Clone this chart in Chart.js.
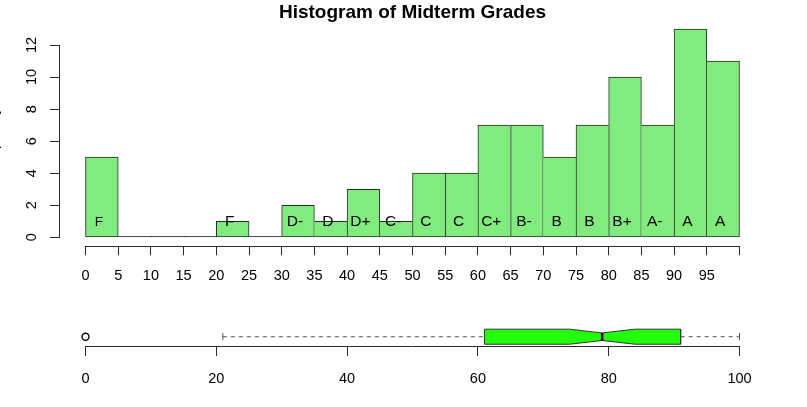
<!DOCTYPE html>
<html>
<head>
<meta charset="utf-8">
<script src="https://cdn.jsdelivr.net/npm/chart.js@4/dist/chart.umd.min.js"></script>
<style>
  body { margin: 0; background: #fff; }
  #wrap { position: relative; width: 807px; height: 407px; }
  #wrap canvas { position: absolute; left: 0; }
  #histChart { top: 0; }
  #boxChart { top: 290px; }
</style>
</head>
<body>
<div id="wrap">
  <canvas id="histChart" width="807" height="290"></canvas>
  <canvas id="boxChart" width="807" height="117"></canvas>
</div>
<script>
// histogram: lower edge of each 5-point bin, count in it, grade written in the bar
const binStarts = [0, 5, 10, 15, 20, 25, 30, 35, 40, 45, 50, 55, 60, 65, 70, 75, 80, 85, 90, 95];
const counts = [5, 0, 0, 0, 1, 0, 2, 1, 3, 1, 4, 4, 7, 7, 5, 7, 10, 7, 13, 11];
const grades = ['F', '', '', '', 'F', '', 'D-', 'D', 'D+', 'C-', 'C', 'C', 'C+', 'B-', 'B', 'B', 'B+', 'A-', 'A', 'A'];

// boxplot: lower whisker, Q1, median, Q3, upper whisker
const boxStats = [21, 61, 79, 91, 100];
const boxNotch = [74, 84];
const boxOutliers = [0];

const FONT = "'Liberation Sans', Arial, Helvetica, sans-serif";
Chart.defaults.font.family = FONT;
Chart.defaults.font.size = 14.5;
Chart.defaults.color = '#000';

const binWidth = 5;
const gradeLevel = 0.95;   // height (in counts) where grade letters sit
const boxHalf = 0.73;      // half height of the box on the boxplot y scale
const notchHalf = 0.365;
const barFill = 'rgb(128, 236, 126)';
const edge = '#2a2a2a';

// R draws its axes a little away from the plot region
const detachAxes = {
    id: 'detachAxes',
    afterLayout(chart, args, opts) {
        const {x, y} = chart.scales;
        y.left -= opts.yShift;
        y.right -= opts.yShift;
        x.top += opts.xShift;
        x.bottom += opts.xShift;
    }
};

const gradeText = {
    id: 'gradeText',
    afterDatasetsDraw(chart) {
        const ctx = chart.ctx;
        const bars = chart.getDatasetMeta(0).data;
        const y = chart.scales.y.getPixelForValue(gradeLevel);
        ctx.save();
        ctx.fillStyle = '#000';
        ctx.textAlign = 'center';
        ctx.textBaseline = 'middle';
        grades.forEach((g, i) => {
            if (!g) return;
            ctx.font = (i === 0 ? '13.5px ' : '15.5px ') + FONT;
            ctx.fillText(g, bars[i].x - 3, y);
        });
        ctx.restore();
    }
};

const last = counts.length - 1;
new Chart(document.getElementById('histChart'), {
    type: 'bar',
    data: {
        datasets: [{
            label: 'Frequency',
            data: binStarts.map((s, i) => ({x: s + binWidth / 2, y: counts[i]})),
            // empty bins show up as a line on the baseline
            backgroundColor: c => (counts[c.dataIndex] === 0 ? edge : barFill),
            borderColor: edge,
            borderSkipped: false,
            // draw each shared edge once, from the taller bar
            borderWidth: c => {
                const i = c.dataIndex;
                return {
                    top: 1,
                    bottom: 1,
                    left: (i === 0 || counts[i] >= counts[i - 1]) ? 1 : 0,
                    right: (i === last || counts[i] > counts[i + 1]) ? 1 : 0
                };
            },
            minBarLength: 1,
            barPercentage: 1,
            categoryPercentage: 1,
            clip: false
        }]
    },
    options: {
        responsive: false,
        animation: false,
        layout: { padding: { left: 0, right: 67.5, top: 0, bottom: 0 } },
        plugins: {
            legend: { display: false },
            tooltip: { enabled: false },
            title: {
                display: true,
                text: 'Histogram of Midterm Grades',
                fullSize: false,
                color: '#000',
                font: { size: 19, weight: 'bold' },
                padding: { top: 1.6, bottom: 20.6 }
            },
            detachAxes: { xShift: 9, yShift: 26.5 }
        },
        scales: {
            x: {
                type: 'linear',
                min: 0,
                max: 100,
                offset: false,
                afterFit: s => { s.height = 52.7; },
                border: { color: edge },
                grid: { drawOnChartArea: false, offset: false, tickLength: 9, color: edge },
                ticks: {
                    stepSize: 5,
                    autoSkip: false,
                    maxRotation: 0,
                    padding: 12,
                    callback: v => (v === 100 ? '' : v)
                }
            },
            y: {
                min: 0,
                max: 12,
                afterFit: s => { s.width = 85.5; },
                border: { color: edge },
                grid: { drawOnChartArea: false, tickLength: 9, color: edge },
                ticks: { stepSize: 2, minRotation: 90, maxRotation: 90, crossAlign: 'center', padding: 10 },
                title: { display: true, text: 'Frequency', padding: { top: 11.8 } }
            }
        }
    },
    plugins: [detachAxes, gradeText]
});

const [wLo, q1, med, q3, wHi] = boxStats;
const [nLo, nHi] = boxNotch;
const boxShape = [
    [q1, -boxHalf], [q1, boxHalf], [nLo, boxHalf], [med, notchHalf], [nHi, boxHalf], [q3, boxHalf],
    [q3, -boxHalf], [nHi, -boxHalf], [med, -notchHalf], [nLo, -boxHalf], [q1, -boxHalf]
].map(p => ({x: p[0], y: p[1]}));

new Chart(document.getElementById('boxChart'), {
    type: 'scatter',
    data: {
        datasets: [
            {
                label: 'median',
                data: [{x: med, y: -notchHalf}, {x: med, y: notchHalf}],
                showLine: true,
                borderColor: '#000',
                borderWidth: 2.5,
                pointRadius: 0
            },
            {
                label: 'box',
                data: boxShape,
                showLine: true,
                fill: 'shape',
                backgroundColor: '#22ff0c',
                borderColor: '#333',
                borderWidth: 1,
                pointRadius: 0
            },
            {
                label: 'lower whisker',
                data: [{x: wLo, y: 0}, {x: q1, y: 0}],
                showLine: true,
                borderColor: '#555',
                borderWidth: 1,
                borderDash: [4, 4],
                pointRadius: 0
            },
            {
                label: 'upper whisker',
                data: [{x: q3, y: 0}, {x: wHi, y: 0}],
                showLine: true,
                borderColor: '#555',
                borderWidth: 1,
                borderDash: [4, 4],
                pointRadius: 0,
                clip: false
            },
            {
                label: 'staples',
                data: [{x: wLo, y: 0}, {x: wHi, y: 0}],
                pointStyle: 'line',
                rotation: 90,
                pointRadius: 3.7,
                borderColor: '#555',
                borderWidth: 1,
                clip: false
            },
            {
                label: 'outliers',
                data: boxOutliers.map(v => ({x: v, y: 0})),
                pointStyle: 'circle',
                pointRadius: 3.5,
                backgroundColor: 'rgba(0,0,0,0)',
                borderColor: '#000',
                borderWidth: 1.4,
                clip: false
            }
        ]
    },
    options: {
        responsive: false,
        animation: false,
        layout: { padding: { left: 85.5, right: 67.5, top: 36.4, bottom: 0 } },
        plugins: { legend: { display: false }, tooltip: { enabled: false } },
        scales: {
            x: {
                type: 'linear',
                min: 0,
                max: 100,
                afterFit: s => { s.height = 60; },
                border: { color: edge },
                grid: { drawOnChartArea: false, tickLength: 9, color: edge },
                ticks: { stepSize: 20, autoSkip: false, maxRotation: 0, padding: 14 }
            },
            y: { display: false, min: -1, max: 1 }
        }
    }
});
</script>
</body>
</html>
